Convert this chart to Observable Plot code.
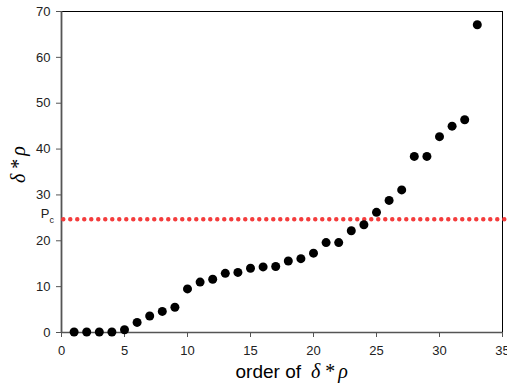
<!DOCTYPE html>
<html>
<head>
<meta charset="utf-8">
<script src="https://cdn.jsdelivr.net/npm/d3@7"></script>
<script src="https://cdn.jsdelivr.net/npm/@observablehq/plot@0.6"></script>
<style>
  html, body { margin: 0; padding: 0; background: white; }
</style>
</head>
<body>
<div id="chart"></div>
<script>
const order = [1,2,3,4,5,6,7,8,9,10,11,12,13,14,15,16,17,18,19,20,21,22,23,24,25,26,27,28,29,30,31,32,33];
const values = [0.1,0.1,0.1,0.1,0.6,2.2,3.6,4.6,5.5,9.5,11.0,11.6,12.9,13.1,14.0,14.3,14.4,15.6,16.1,17.3,19.6,19.6,22.2,23.5,26.2,28.8,31.1,38.4,38.4,42.7,45.0,46.4,67.1];
const pc = 24.7;
const xTicks = [0,5,10,15,20,25,30,35];
const yTicks = [0,10,20,30,40,50,60,70];

const data = order.map((o, i) => ({order: o, value: values[i]}));

const chart = Plot.plot({
  width: 507,
  height: 387,
  marginLeft: 61,
  marginRight: 5,
  marginTop: 11,
  marginBottom: 55,
  style: {fontFamily: "'Liberation Sans', Arial, sans-serif", fontSize: "13px", color: "#222", background: "white"},
  x: {domain: [0, 35], ticks: xTicks},
  y: {domain: [0, 70], ticks: yTicks},
  marks: [
    Plot.ruleY([70], {stroke: "black", strokeWidth: 1}),
    Plot.ruleX([35], {stroke: "black", strokeWidth: 1}),
    Plot.axisY({ticks: yTicks, tickSize: 5, tickPadding: 6, stroke: "#555", label: null, fontSize: 13}),
    Plot.axisX({ticks: xTicks, tickSize: 5, tickPadding: 8, stroke: "#555", label: null, fontSize: 13}),
    Plot.ruleX([0], {stroke: "#555", strokeWidth: 1.8}),
    Plot.ruleY([0], {stroke: "#555", strokeWidth: 1.5}),
    Plot.ruleY([pc], {x1: 0.18, x2: 36, stroke: "#f43c3c", strokeWidth: 4.5, strokeDasharray: "0,7", strokeLinecap: "round"}),
    Plot.dot(data, {x: "order", y: "value", r: 4.5, fill: "black", stroke: "none"}),
    Plot.text(["P"], {frameAnchor: "left", y: [pc], dx: -12, dy: -5, textAnchor: "end", fontSize: 13, fill: "#222"}),
    Plot.text(["c"], {frameAnchor: "left", y: [pc], dx: -12, dy: 1, textAnchor: "start", fontSize: 9, fill: "#222"}),
    Plot.text(["order of"], {frameAnchor: "bottom", dx: 19, dy: 45, textAnchor: "end", fontSize: 19, fill: "black"}),
    Plot.text(["δ\u2009*\u2009ρ"], {frameAnchor: "bottom", dx: 29, dy: 45, textAnchor: "start", fontSize: 20, fontStyle: "italic", fontFamily: "'Liberation Serif', serif", fill: "black"}),
    Plot.text(["δ\u2009*\u2009ρ"], {frameAnchor: "left", dx: -43, dy: 11, rotate: -90, fontSize: 20, fontStyle: "italic", fontFamily: "'Liberation Serif', serif", fill: "black"})
  ]
});
document.getElementById("chart").appendChild(chart);
</script>
</body>
</html>
